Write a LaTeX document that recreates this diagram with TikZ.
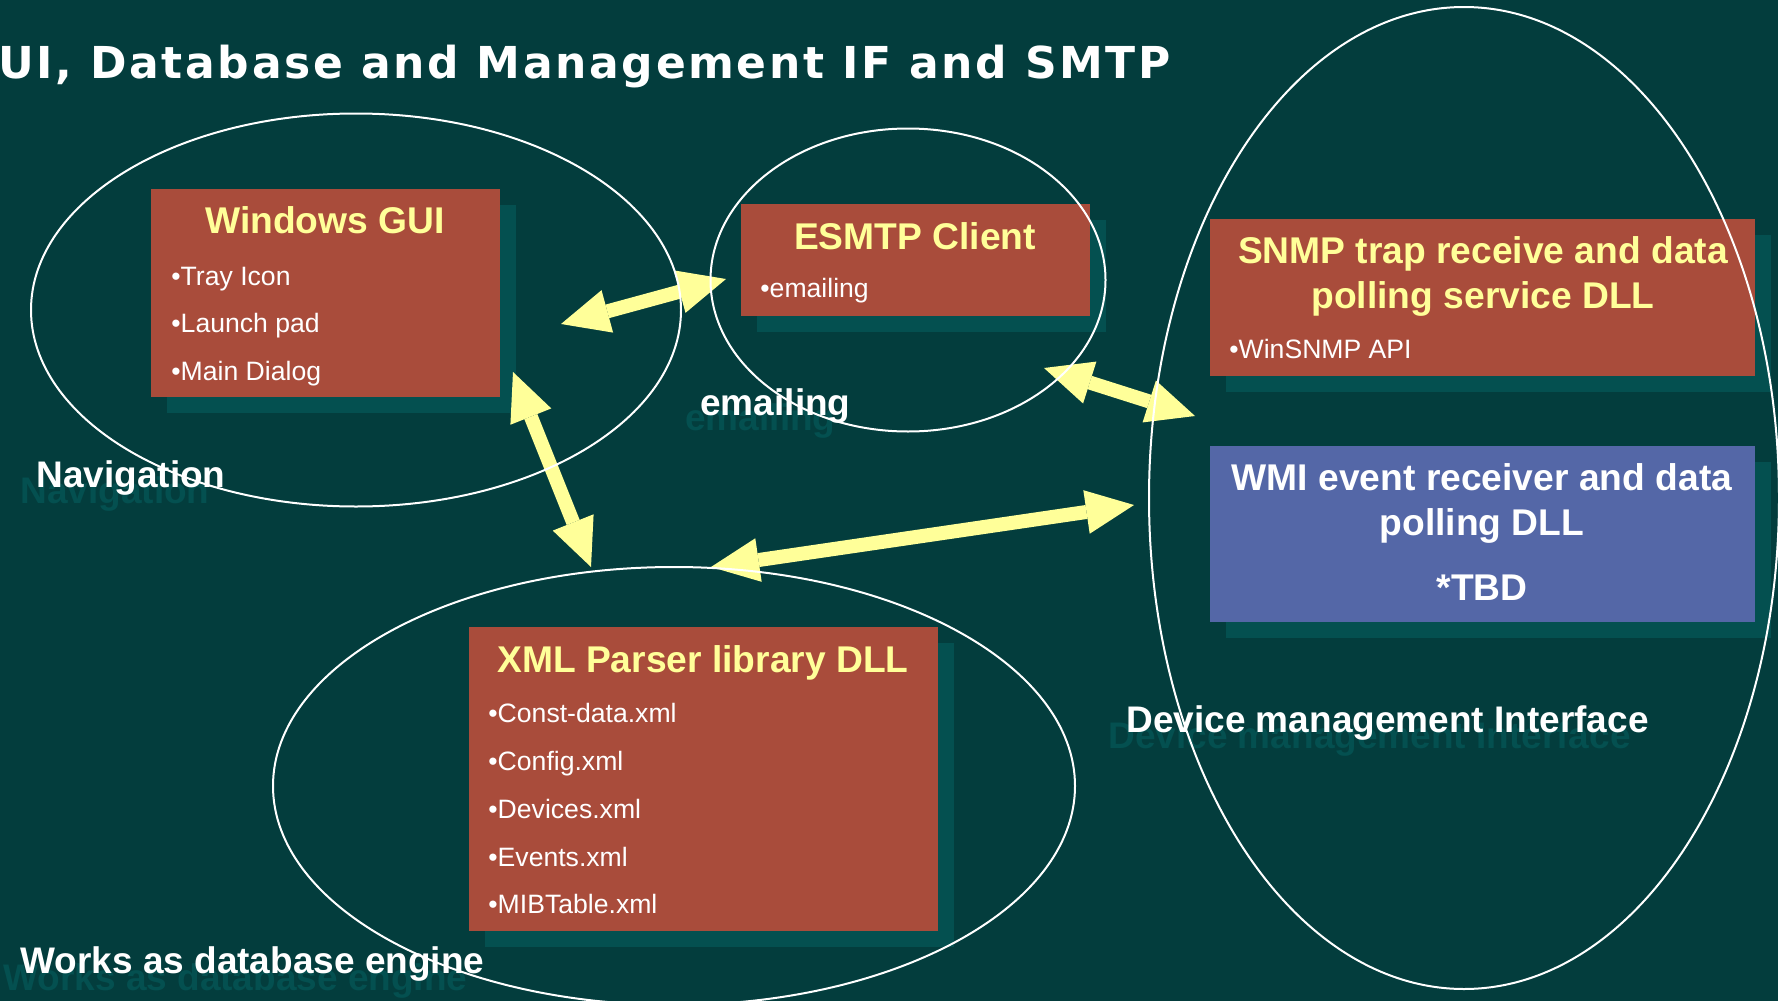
\documentclass[tikz,border=0pt]{standalone}
\usepackage{fontspec}
\setmainfont{Liberation Sans}
\newfontfamily\headfont[LetterSpace=6]{DejaVu Sans}
\usetikzlibrary{arrows.meta,shadows,positioning,calc}
\definecolor{bgTeal}{HTML}{033D3D}
\definecolor{shTeal}{HTML}{045050}
\definecolor{boxRed}{HTML}{A94C3B}
\definecolor{boxBlue}{HTML}{5467A7}
\definecolor{arrYellow}{HTML}{FFFF99}
\tikzset{%
  redbox/.style={fill=boxRed, inner sep=0pt,
    drop shadow={shadow xshift=8pt, shadow yshift=-8pt, fill=shTeal, opacity=1}},
  bluebox/.style={redbox, fill=boxBlue},
  headline/.style={text=white, inner sep=0pt, anchor=base west,
    font=\headfont\bfseries\fontsize{22}{26}\selectfont},
  boxhead/.style={text=arrYellow, inner sep=0pt, anchor=base,
    font=\bfseries\fontsize{18.6}{20}\selectfont},
  wmihead/.style={boxhead, text=white},
  item/.style={text=white, inner sep=0pt, anchor=base west,
    font=\fontsize{13.3}{15}\selectfont},
  lbl/.style={text=white, inner sep=0pt, anchor=base west,
    font=\bfseries\fontsize{18.5}{20}\selectfont},
  lblshade/.style={lbl, text=shTeal},
  dblarrow/.style={draw=arrYellow, line width=7pt,
    {Triangle[length=24pt,width=22pt,line width=0pt]}-{Triangle[length=24pt,width=22pt,line width=0pt]}},
  ring/.style={draw=white, line width=1pt}
}

\begin{document}
\begin{tikzpicture}[x=0.5pt,y=-0.5pt]
\useasboundingbox (0,0) rectangle (1778,1001);
\clip (0,0) rectangle (1778,1001);
\fill[bgTeal] (0,0) rectangle (1778,1001);

\node[headline] (titleNode) at (-2,78) {UI, Database and Management IF and SMTP};

\coordinate (navNode) at (356,310);
\coordinate (smtpNode) at (908,280);
\coordinate (devNode) at (1464,498);
\coordinate (dbNode) at (674,786);

\node[redbox, minimum width=174.5pt, minimum height=104pt] (guiBox) at (325.5,293) {};
\node[redbox, minimum width=174.5pt, minimum height=56pt] (smtpBox) at (915.5,260) {};
\node[redbox, minimum width=272.5pt, minimum height=78.5pt] (snmpBox) at (1482.5,297.5) {};
\node[bluebox, minimum width=272.5pt, minimum height=88pt] (wmiBox) at (1482.5,534) {};
\node[redbox, minimum width=234.5pt, minimum height=152pt] (xmlBox) at (703.5,779) {};

\node[boxhead] (guiHead) at (325,233) {Windows GUI};
\node[item] (guiItemA) at (171,285) {•Tray Icon};
\node[item] (guiItemB) at (171,332) {•Launch pad};
\node[item] (guiItemC) at (171,380) {•Main Dialog};

\node[boxhead] (smtpHead) at (915,249) {ESMTP Client};
\node[item] (smtpItemA) at (760,297) {•emailing};

\node[boxhead] (snmpHeadA) at (1483,263) {SNMP trap receive and data};
\node[boxhead] (snmpHeadB) at (1483,308) {polling service DLL};
\node[item] (snmpItemA) at (1229,358) {•WinSNMP API};

\node[wmihead] (wmiHeadA) at (1482,490) {WMI event receiver and data};
\node[wmihead] (wmiHeadB) at (1482,535) {polling DLL};
\node[wmihead] (wmiHeadC) at (1482,600) {*TBD};

\node[boxhead] (xmlHead) at (703,672) {XML Parser library DLL};
\node[item] (xmlItemA) at (488,722) {•Const-data.xml};
\node[item] (xmlItemB) at (488,770) {•Config.xml};
\node[item] (xmlItemC) at (488,818) {•Devices.xml};
\node[item] (xmlItemD) at (488,866) {•Events.xml};
\node[item] (xmlItemE) at (488,913) {•MIBTable.xml};

\node[lblshade] (mailShade) at (685,430) {emailing};
\node[lbl] (mailLabel) at (700,415) {emailing};
\node[lblshade] (navShade) at (20,503) {Navigation};
\node[lbl] (navLabel) at (36,487) {Navigation};
\node[lblshade] (dbShade) at (3,990) {Works as database engine};
\node[lbl] (dbLabel) at (20,973) {Works as database engine};
\node[lblshade] (devShade) at (1108,748) {Device management Interface};
\node[lbl] (devLabel) at (1126,732) {Device management Interface};

\coordinate (guiEast) at (561,324);  \coordinate (smtpWest) at (726,279);
\coordinate (guiSouth) at (513,372); \coordinate (xmlNorth) at (591,567);
\coordinate (smtpSouth) at (1044,368); \coordinate (snmpWest) at (1195,416);
\coordinate (xmlNorthE) at (711,567); \coordinate (wmiWest) at (1134,505);

\draw[dblarrow] (guiEast) -- (smtpWest);
\draw[dblarrow] (guiSouth) -- (xmlNorth);
\draw[dblarrow] (smtpSouth) -- (snmpWest);
\draw[dblarrow] (xmlNorthE) -- (wmiWest);

\draw[ring] (navNode) ellipse [x radius=162.5pt, y radius=98.25pt];
\draw[ring] (smtpNode) ellipse [x radius=98.75pt, y radius=75.75pt];
\draw[ring] (devNode) ellipse [x radius=157.5pt, y radius=245.5pt];
\draw[ring] (dbNode) ellipse [x radius=200.5pt, y radius=109.5pt];
\end{tikzpicture}
\end{document}
